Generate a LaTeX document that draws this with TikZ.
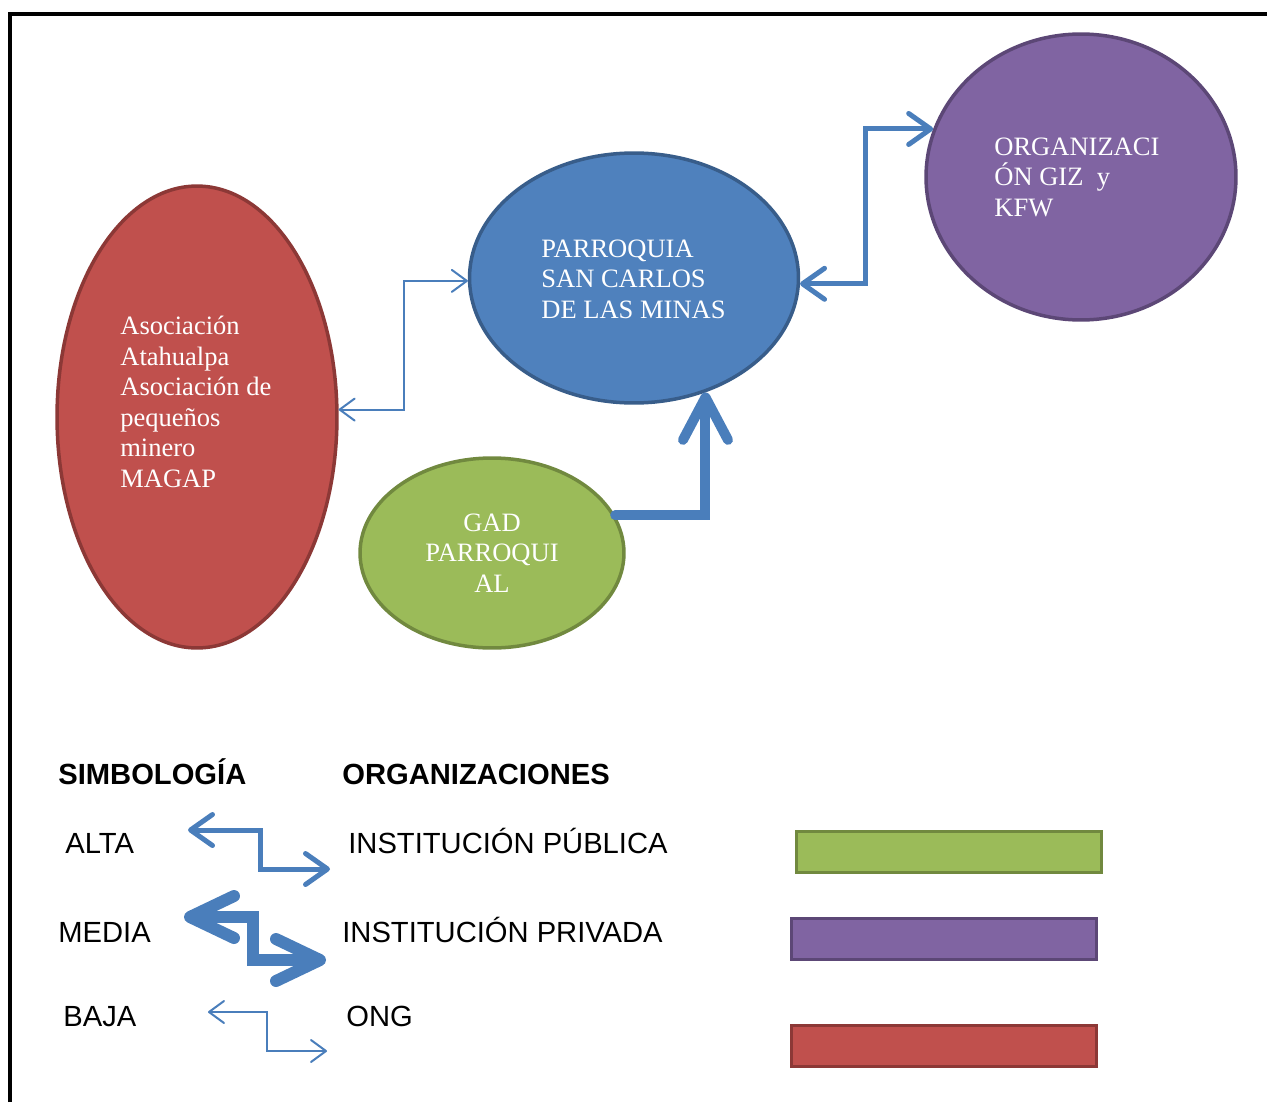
\documentclass[tikz,border=0pt]{standalone}
\usepackage{fontspec}
\setmainfont{Liberation Serif}
\setsansfont{Liberation Sans}
\usetikzlibrary{arrows.meta,shapes.geometric}
\definecolor{cRed}{HTML}{C0504D}\definecolor{cRedB}{HTML}{8C3836}
\definecolor{cBlue}{HTML}{4F81BD}\definecolor{cBlueB}{HTML}{385D8A}
\definecolor{cPur}{HTML}{8064A2}\definecolor{cPurB}{HTML}{5C4776}
\definecolor{cGrn}{HTML}{9BBB59}\definecolor{cGrnB}{HTML}{71893F}
\definecolor{cArr}{HTML}{4A7EBB}
\tikzset{
  blob/.style={ellipse, draw, line width=0.07cm, inner sep=0pt},
  intext/.style={text=white, font=\fontsize{15.1}{17.4}\selectfont, align=left, inner sep=0pt},
  legtext/.style={font=\sffamily\fontsize{16.6}{18}\selectfont, anchor=base west, inner sep=0pt},
  legbold/.style={legtext, font=\sffamily\bfseries\fontsize{16.6}{18}\selectfont},
  bar/.style={draw, line width=0.06cm, minimum width=6.1cm, minimum height=0.82cm, inner sep=0pt, anchor=north west},
  thinarr/.style={draw=cArr, line width=0.04cm, line cap=round, line join=miter,
     {Straight Barb[length=0.3cm,width=0.44cm,round]}-{Straight Barb[length=0.3cm,width=0.44cm,round]}},
  medarr/.style={draw=cArr, line width=0.1cm, line cap=round,
     {Straight Barb[length=0.44cm,width=0.62cm,round]}-{Straight Barb[length=0.44cm,width=0.62cm,round]}},
  thickarr/.style={draw=cArr, line width=0.2cm, line cap=round,
     -{Straight Barb[length=0.85cm,width=0.9cm,round]}},
  legthick/.style={draw=cArr, line width=0.24cm, line cap=round,
     {Straight Barb[length=0.88cm,width=0.84cm,round]}-{Straight Barb[length=0.88cm,width=0.84cm,round]}},
}
\begin{document}
\begin{tikzpicture}[x=0.02cm, y=-0.02cm]
\useasboundingbox (0,0) rectangle (1267,1102);
% frame
\draw[line width=0.08cm] (10,1102) -- (10,14) -- (1267,14);
% ellipses
\node[blob, fill=cRed, draw=cRedB, minimum width=5.6cm, minimum height=9.24cm] (red) at (197,417) {};
\node[blob, fill=cBlue, draw=cBlueB, minimum width=6.58cm, minimum height=5.0cm] (blue) at (634,278) {};
\node[blob, fill=cPur, draw=cPurB, minimum width=6.2cm, minimum height=5.72cm] (pur) at (1081,177) {};
\node[blob, fill=cGrn, draw=cGrnB, minimum width=5.28cm, minimum height=3.8cm] (grn) at (492,553) {};
% texts
\node[intext, anchor=west] (redtxt) at (120,402) {Asociación\\Atahualpa\\Asociación de\\pequeños\\minero\\MAGAP};
\node[intext, anchor=west] (bluetxt) at (541,279) {PARROQUIA\\SAN CARLOS\\DE LAS MINAS};
\node[intext, anchor=west] (purtxt) at (994,177) {ORGANIZACI\\ÓN GIZ\ \ y\\KFW};
\node[intext, align=center] (grntxt) at (492,553) {GAD\\PARROQUI\\AL};
% connectors
\draw[thinarr] (red.3) -- ++(65,0) |- (blue.181);
\draw[medarr] (blue.358) -- ++(65,0) |- (pur.162);
\draw[thickarr] (grn.17) -| (blue.302);
% legend
\node[legbold] (simb) at (58,784) {SIMBOLOGÍA};
\node[legbold] (orgs) at (342,784) {ORGANIZACIONES};
\node[legtext] (alta) at (65,853) {ALTA};
\node[legtext] (media) at (58,942) {MEDIA};
\node[legtext] (baja) at (63,1026) {BAJA};
\node[legtext] (pub) at (348,853) {INSTITUCIÓN PÚBLICA};
\node[legtext] (priv) at (342,942) {INSTITUCIÓN PRIVADA};
\node[legtext] (ong) at (346,1026) {ONG};
\coordinate (a1) at (188,830); \coordinate (a2) at (330,869);
\coordinate (m1) at (184,917); \coordinate (m2) at (326,960);
\coordinate (b1) at (208,1012); \coordinate (b2) at (327,1051);
\draw[medarr] (a1) -- (260,830) |- (a2);
\draw[legthick] (m1) -- (253,917) |- (m2);
\draw[thinarr] (b1) -- (267,1012) |- (b2);
\node[bar, fill=cGrn, draw=cGrnB] (barg) at (795,830) {};
\node[bar, fill=cPur, draw=cPurB] (barp) at (790,917) {};
\node[bar, fill=cRed, draw=cRedB] (barr) at (790,1024) {};
\end{tikzpicture}
\end{document}
